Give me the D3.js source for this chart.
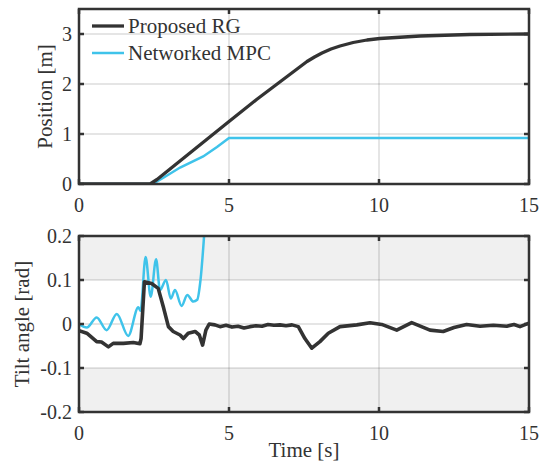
<!DOCTYPE html>
<html lang="en">
<head>
  <meta charset="UTF-8" />
  <title>Position and tilt angle</title>
  <script src="https://d3js.org/d3.v7.min.js"></script>
  <style>
    body { margin: 0; background: #fff; }
    svg text { font-family: "Liberation Serif", "Tinos", "Times New Roman", "DejaVu Serif", serif; fill: #333; }
    .tick-label { font-size: 20px; }
    .axis-title { font-size: 21px; }
    .legend-item { font-size: 21px; }
  </style>
</head>
<body>
  <div id="chart"></div>
  <script>
    // time ticks shared by both panels
    const timeTicks = [0, 5, 10, 15];
    const posTicks = [0, 1, 2, 3];
    const tiltTicks = [-0.2, -0.1, 0, 0.1, 0.2];

    // top panel: position [m]
    const rgPosT = [0, 2.37, 2.6, 5, 5.92, 7.6, 7.85, 8.1, 8.4, 8.7, 9.14, 9.6, 10.03, 11.37, 13.03, 15];
    const rgPos  = [0, 0, 0.09, 1.25, 1.69, 2.45, 2.54, 2.62, 2.7, 2.76, 2.83, 2.88, 2.91, 2.96, 2.99, 3.0];
    const mpcPosT = [0, 2.45, 2.8, 3.37, 4.14, 4.6, 5.0, 15];
    const mpcPos  = [0, 0, 0.12, 0.33, 0.55, 0.74, 0.92, 0.92];

    // bottom panel: tilt angle [rad]
    const rgTiltT = [0, 0.26, 0.59, 0.75, 0.98, 1.14, 1.48, 1.81, 2.03, 2.07, 2.18, 2.42, 2.64, 2.81, 2.98, 3.14, 3.37, 3.48, 3.64, 3.87, 4.01, 4.12, 4.23, 4.34, 4.53,
      4.7, 4.9, 5.1, 5.3, 5.5, 5.7, 5.9, 6.1, 6.3, 6.5, 6.7, 6.9, 7.1, 7.31, 7.53, 7.76, 8.03, 8.31, 8.7, 9.26, 9.7, 10.09, 10.59, 11.09, 11.7, 12.14, 12.5, 12.92, 13.37, 13.81, 14.26, 14.5, 14.7, 15];
    const rgTilt  = [-0.015, -0.021, -0.04, -0.041, -0.052, -0.044, -0.044, -0.042, -0.045, -0.033, 0.096, 0.092, 0.081, 0.039, -0.006, -0.017, -0.025, -0.033, -0.021, -0.017, -0.025, -0.048, -0.014, 0, -0.002,
      -0.006, -0.003, -0.007, -0.005, -0.009, -0.006, -0.004, -0.005, -0.001, -0.003, -0.002, -0.004, -0.002, -0.006, -0.033, -0.055, -0.04, -0.021, -0.006, -0.002, 0.003, -0.001, -0.014, 0.003, -0.014, -0.017, -0.008, -0.001, -0.005, -0.003, -0.005, -0.001, -0.006, 0.002];
    const mpcTiltT = [0, 0.26, 0.59, 0.92, 1.26, 1.64, 1.98, 2.05, 2.22, 2.39, 2.57, 2.7, 2.9, 3.06, 3.2, 3.42, 3.61, 3.81, 3.94, 4.05, 4.2];
    const mpcTilt  = [0, -0.008, 0.015, -0.014, 0.023, -0.027, 0.038, 0.03, 0.152, 0.062, 0.147, 0.077, 0.1, 0.058, 0.077, 0.041, 0.066, 0.051, 0.055, 0.1, 0.23];

    const seriesNames = ["Proposed RG", "Networked MPC"];
    const seriesColors = ["#333333", "#3fc3ea"];

    const W = 540, H = 462;
    const left = 79, right = 529;

    const svg = d3.select("#chart").append("svg")
      .attr("width", W).attr("height", H);

    const x = d3.scaleLinear().domain([0, 15]).range([left, right]);
    const yPos = d3.scaleLinear().domain([0, 3.5]).range([184, 9]);
    const yTilt = d3.scaleLinear().domain([-0.2, 0.2]).range([412, 236]);

    function zip(ts, vs) { return ts.map((t, i) => [t, vs[i]]); }

    function drawPanel(y, yTicks, fmt, id, shade) {
      const g = svg.append("g");
      const [y0, y1] = y.range();

      g.append("clipPath").attr("id", id)
        .append("rect").attr("x", left).attr("y", y1)
        .attr("width", right - left).attr("height", y0 - y1);

      if (shade) {
        [[0.1, 0.2], [-0.2, -0.1]].forEach(b => {
          g.append("rect")
            .attr("x", left).attr("width", right - left)
            .attr("y", y(b[1])).attr("height", y(b[0]) - y(b[1]))
            .attr("fill", "#f0f0f0");
        });
      }

      // grid
      g.selectAll(".gx").data(timeTicks.slice(1, -1)).join("line")
        .attr("x1", d => x(d)).attr("x2", d => x(d))
        .attr("y1", y1).attr("y2", y0)
        .attr("stroke", "#000").attr("stroke-opacity", 0.1).attr("stroke-width", 2);
      g.selectAll(".gy").data(yTicks.filter(d => d > y.domain()[0] && d < y.domain()[1])).join("line")
        .attr("x1", left).attr("x2", right)
        .attr("y1", d => y(d)).attr("y2", d => y(d))
        .attr("stroke", "#000").attr("stroke-opacity", 0.1).attr("stroke-width", 2);

      // tick labels
      svg.append("g").selectAll("text").data(yTicks).join("text")
        .attr("class", "tick-label")
        .attr("x", left - 7).attr("y", d => y(d)).attr("dy", "0.35em")
        .attr("text-anchor", "end")
        .text(fmt);
      svg.append("g").selectAll("text").data(timeTicks).join("text")
        .attr("class", "tick-label")
        .attr("x", d => x(d)).attr("y", y0 + 28)
        .attr("text-anchor", "middle")
        .text(d => d);

      return g;
    }

    function drawFrame(y, yTicks) {
      const [y0, y1] = y.range();
      const g = svg.append("g").attr("stroke", "#333").attr("stroke-width", 2.5);
      g.append("rect").attr("x", left).attr("y", y1)
        .attr("width", right - left).attr("height", y0 - y1)
        .attr("fill", "none");
      yTicks.forEach(d => {
        g.append("line").attr("x1", left).attr("x2", left + 5).attr("y1", y(d)).attr("y2", y(d));
        g.append("line").attr("x1", right).attr("x2", right - 5).attr("y1", y(d)).attr("y2", y(d));
      });
      timeTicks.forEach(d => {
        g.append("line").attr("x1", x(d)).attr("x2", x(d)).attr("y1", y0).attr("y2", y0 - 5);
        g.append("line").attr("x1", x(d)).attr("x2", x(d)).attr("y1", y1).attr("y2", y1 + 5);
      });
    }

    // top panel
    const posPanel = drawPanel(yPos, posTicks, d => d, "clipTop", false);
    const linePos = d3.line().x(d => x(d[0])).y(d => yPos(d[1]));
    posPanel.append("path").datum(zip(mpcPosT, mpcPos))
      .attr("d", linePos)
      .attr("fill", "none").attr("stroke", seriesColors[1]).attr("stroke-width", 2.5)
      .attr("clip-path", "url(#clipTop)");
    posPanel.append("path").datum(zip(rgPosT, rgPos))
      .attr("d", linePos)
      .attr("fill", "none").attr("stroke", seriesColors[0]).attr("stroke-width", 3.3)
      .attr("stroke-linejoin", "round")
      .attr("clip-path", "url(#clipTop)");
    drawFrame(yPos, posTicks);

    // bottom panel
    const fmtTilt = d => d === 0 ? "0" : (d < 0 ? "-" : "") + Math.abs(d).toFixed(1);
    const tiltPanel = drawPanel(yTilt, tiltTicks, fmtTilt, "clipBot", true);
    tiltPanel.append("path").datum(zip(mpcTiltT, mpcTilt))
      .attr("d", d3.line().x(d => x(d[0])).y(d => yTilt(d[1])).curve(d3.curveMonotoneX))
      .attr("fill", "none").attr("stroke", seriesColors[1]).attr("stroke-width", 2.5)
      .attr("clip-path", "url(#clipBot)");
    tiltPanel.append("path").datum(zip(rgTiltT, rgTilt))
      .attr("d", d3.line().x(d => x(d[0])).y(d => yTilt(d[1])))
      .attr("fill", "none").attr("stroke", seriesColors[0]).attr("stroke-width", 3.6)
      .attr("stroke-linejoin", "round")
      .attr("clip-path", "url(#clipBot)");
    drawFrame(yTilt, tiltTicks);

    // axis titles
    svg.append("text").attr("class", "axis-title")
      .attr("transform", `translate(52,${yPos(1.75)}) rotate(-90)`)
      .attr("text-anchor", "middle").text("Position [m]");
    svg.append("text").attr("class", "axis-title")
      .attr("transform", `translate(29,${yTilt(0)}) rotate(-90)`)
      .attr("text-anchor", "middle").text("Tilt angle [rad]");
    svg.append("text").attr("class", "axis-title")
      .attr("x", (left + right) / 2).attr("y", 457)
      .attr("text-anchor", "middle").text("Time [s]");

    // legend
    const legend = svg.selectAll(".legend-item").data(seriesNames).join("g")
      .attr("class", "legend-item")
      .attr("transform", (d, i) => `translate(92,${26 + i * 27})`);
    legend.append("line").attr("x1", 0).attr("x2", 32)
      .attr("stroke", (d, i) => seriesColors[i]).attr("stroke-width", (d, i) => i ? 2.5 : 3.3);
    legend.append("text").attr("x", 36).attr("dy", "0.35em").text(d => d);
  </script>
</body>
</html>
